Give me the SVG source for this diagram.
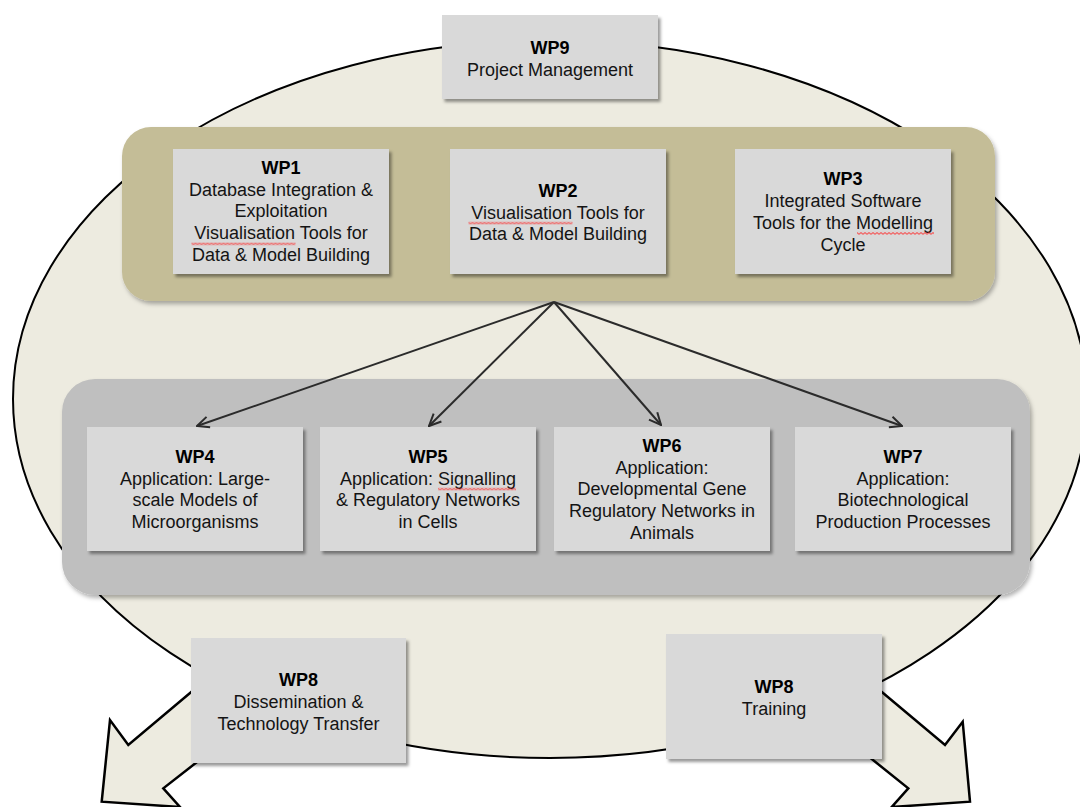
<svg xmlns="http://www.w3.org/2000/svg" width="1080" height="807" viewBox="0 0 1080 807">
<defs>
<style>
text{font-family:"Liberation Sans",Arial,sans-serif;font-size:18px;fill:#141414;text-anchor:middle}
text .b{font-weight:bold;fill:#000}
.box{fill:#d9d9d9;filter:url(#sh)}
.big{stroke:#000;stroke-width:2.5;fill:#edebe0;stroke-linejoin:miter}
.con{stroke:#2b2b2b;stroke-width:2;fill:none;marker-end:url(#ah)}
</style>
<filter id="sh" x="-10%" y="-10%" width="125%" height="130%">
<feDropShadow dx="2.5" dy="3" stdDeviation="1.6" flood-color="#000" flood-opacity="0.4"/>
</filter>
<filter id="sh2" x="-5%" y="-10%" width="112%" height="125%">
<feDropShadow dx="2" dy="3" stdDeviation="2" flood-color="#000" flood-opacity="0.3"/>
</filter>
<marker id="ah" viewBox="0 0 14 14" refX="13" refY="7" markerWidth="14" markerHeight="14" markerUnits="userSpaceOnUse" orient="auto">
<path d="M1,1.5 L13,7 L1,12.5" fill="none" stroke="#2b2b2b" stroke-width="2"/>
</marker>
<pattern id="sq" width="4" height="3" patternUnits="userSpaceOnUse">
<path d="M0,0.6 L2,2.4 L4,0.6" fill="none" stroke="#ff1a1a" stroke-width="1"/>
</pattern>
</defs>

<g id="out-arrows">
<polygon class="big" points="215,672 128.3,745 110,720 101.7,801.7 180,807 163.3,788.3 215,748"/>
<polygon class="big" points="858,672 945,745 962.7,721.7 970,801.7 891.7,807 908.3,788.3 858,748"/>
</g>

<ellipse id="scope" cx="550" cy="399" rx="537" ry="359" fill="#edebe0" stroke="#000" stroke-width="2"/>

<g id="tools-group">
<rect x="122" y="127" width="873" height="174" rx="29" fill="#c4bd97" filter="url(#sh2)"/>
</g>
<g id="apps-group">
<rect x="62" y="379" width="968" height="216" rx="33" fill="#bfbfbf" filter="url(#sh2)"/>
</g>

<g id="wp9">
<rect class="box" x="442" y="15" width="216" height="84"/>
<text x="550" y="53.5"><tspan class="b">WP9</tspan></text>
<text x="550" y="75.5">Project Management</text>
</g>

<g id="wp1">
<rect class="box" x="173" y="149" width="216" height="125"/>
<text x="281" y="173.5"><tspan class="b">WP1</tspan></text>
<text x="281" y="195.5">Database Integration &amp;</text>
<text x="281" y="217.4">Exploitation</text>
<text x="281" y="239.3">Visualisation Tools for</text>
<text x="281" y="261.1">Data &amp; Model Building</text>
<rect x="0" y="0" width="104" height="3" fill="url(#sq)" transform="translate(191.5,242.4)"/>
</g>

<g id="wp2">
<rect class="box" x="450" y="149" width="216" height="125"/>
<text x="558" y="196.7"><tspan class="b">WP2</tspan></text>
<text x="558" y="218.5">Visualisation Tools for</text>
<text x="558" y="240.3">Data &amp; Model Building</text>
<rect x="0" y="0" width="104" height="3" fill="url(#sq)" transform="translate(468.5,221.6)"/>
</g>

<g id="wp3">
<rect class="box" x="735" y="149" width="216" height="125"/>
<text x="843" y="185.2"><tspan class="b">WP3</tspan></text>
<text x="843" y="207">Integrated Software</text>
<text x="843" y="228.8">Tools for the Modelling</text>
<text x="843" y="250.6">Cycle</text>
<rect x="0" y="0" width="77" height="3" fill="url(#sq)" transform="translate(857,231.9)"/>
</g>

<g id="wp4">
<rect class="box" x="87" y="427" width="216" height="124"/>
<text x="195" y="462.7"><tspan class="b">WP4</tspan></text>
<text x="195" y="484.5">Application: Large-</text>
<text x="195" y="506.3">scale Models of</text>
<text x="195" y="528.1">Microorganisms</text>
</g>

<g id="wp5">
<rect class="box" x="320" y="427" width="216" height="124"/>
<text x="428" y="462.7"><tspan class="b">WP5</tspan></text>
<text x="428" y="484.5">Application: Signalling</text>
<text x="428" y="506.3">&amp; Regulatory Networks</text>
<text x="428" y="528.1">in Cells</text>
<rect x="0" y="0" width="78" height="3" fill="url(#sq)" transform="translate(438,487.6)"/>
</g>

<g id="wp6">
<rect class="box" x="554" y="427" width="216" height="124"/>
<text x="662" y="451.8"><tspan class="b">WP6</tspan></text>
<text x="662" y="473.6">Application:</text>
<text x="662" y="495.4">Developmental Gene</text>
<text x="662" y="517.2">Regulatory Networks in</text>
<text x="662" y="539">Animals</text>
</g>

<g id="wp7">
<rect class="box" x="795" y="427" width="216" height="124"/>
<text x="903" y="462.7"><tspan class="b">WP7</tspan></text>
<text x="903" y="484.5">Application:</text>
<text x="903" y="506.3">Biotechnological</text>
<text x="903" y="528.1">Production Processes</text>
</g>

<g id="wp8-dissemination">
<rect class="box" x="191" y="638" width="215" height="125"/>
<text x="298.5" y="686"><tspan class="b">WP8</tspan></text>
<text x="298.5" y="707.8">Dissemination &amp;</text>
<text x="298.5" y="729.6">Technology Transfer</text>
</g>

<g id="wp8-training">
<rect class="box" x="666" y="634" width="216" height="125"/>
<text x="774" y="692.7"><tspan class="b">WP8</tspan></text>
<text x="774" y="714.5">Training</text>
</g>

<g id="connectors">
<line class="con" x1="554" y1="302" x2="197" y2="426"/>
<line class="con" x1="554" y1="302" x2="429" y2="426"/>
<line class="con" x1="554" y1="302" x2="661" y2="425"/>
<line class="con" x1="554" y1="302" x2="902" y2="426"/>
</g>
</svg>
